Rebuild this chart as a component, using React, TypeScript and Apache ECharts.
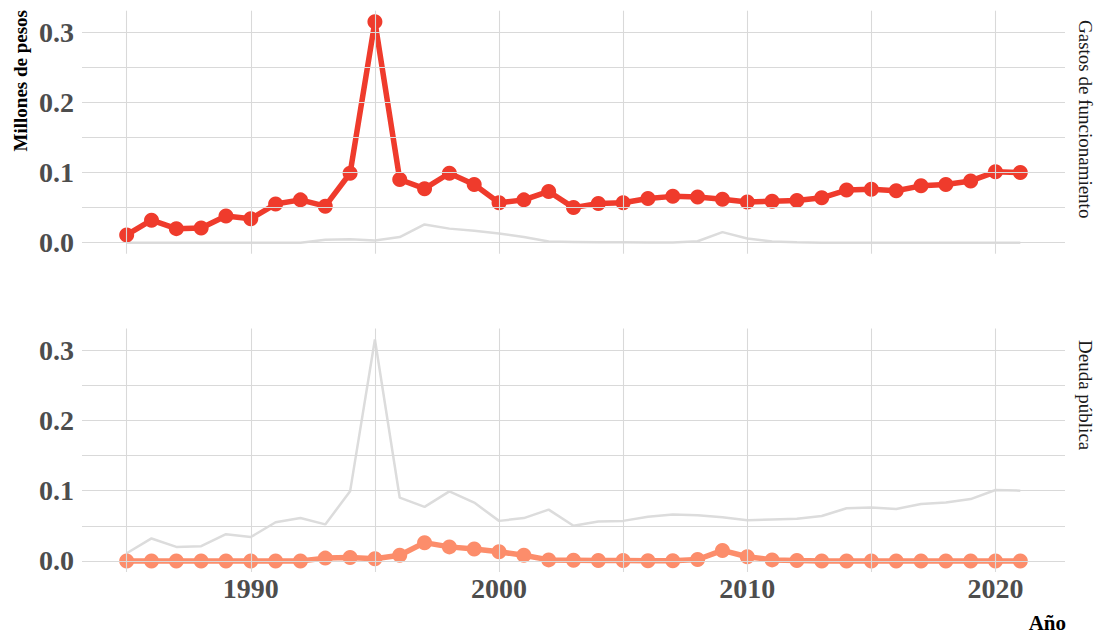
import React, { useEffect, useRef } from "react";
import * as echarts from "echarts";

const years = [1985, 1986, 1987, 1988, 1989, 1990, 1991, 1992, 1993, 1994, 1995, 1996, 1997, 1998, 1999, 2000, 2001, 2002, 2003, 2004, 2005, 2006, 2007, 2008, 2009, 2010, 2011, 2012, 2013, 2014, 2015, 2016, 2017, 2018, 2019, 2020, 2021];

const gastos = [0.011, 0.032, 0.020, 0.021, 0.038, 0.034, 0.055, 0.061, 0.052, 0.099, 0.315, 0.090, 0.077, 0.099, 0.083, 0.057, 0.061, 0.073, 0.050, 0.056, 0.057, 0.063, 0.066, 0.065, 0.062, 0.058, 0.059, 0.060, 0.064, 0.075, 0.076, 0.074, 0.081, 0.083, 0.088, 0.101, 0.100];

const deuda = [0, 0, 0, 0, 0, 0, 0, 0, 0.004, 0.005, 0.003, 0.008, 0.026, 0.020, 0.017, 0.013, 0.008, 0.0015, 0.001, 0.0005, 0.0005, 0.0003, 0.0003, 0.002, 0.015, 0.006, 0.0015, 0.0005, 0, 0, 0, 0, 0, 0, 0, 0, 0];

const panelNames = ["Gastos de funcionamiento", "Deuda pública"];
const xTickLabels = [1990, 2000, 2010, 2020];
const yTickLabels = [0, 0.1, 0.2, 0.3];
const xGridValues = [1985, 1990, 1995, 2000, 2005, 2010, 2015, 2020];
const yGridValues = [0, 0.05, 0.1, 0.15, 0.2, 0.25, 0.3];

const FONT = '"Liberation Serif", "Times New Roman", serif';
const GRID_COLOR = "#d9d9d9";
const GREY = "#dcdcdc";
const RED = "#EF3B2C";
const SALMON = "#FC8D6B";

export default function App() {
  const ref = useRef<HTMLDivElement>(null);
  useEffect(() => {
    if (!ref.current) return;
    const chart = echarts.init(ref.current, undefined, { renderer: "svg" });
    const pair = (arr: number[]) => years.map((y, i) => [y, arr[i]]);
    const gridMark = {
      silent: true,
      symbol: "none",
      label: { show: false },
      lineStyle: { color: GRID_COLOR, width: 1.1, type: "solid" },
      data: [
        ...xGridValues.map((v) => ({ xAxis: v })),
        ...yGridValues.map((v) => ({ yAxis: v })),
      ],
    };
    const xAxisBase = (gi: number, showLabels: boolean) => ({
      type: "value",
      gridIndex: gi,
      min: 1983.2,
      max: 2022.8,
      axisLine: { show: false },
      axisTick: { show: false },
      splitLine: { show: false },
      axisLabel: {
        show: showLabels,
        customValues: xTickLabels,
        margin: 2,
        color: "#4d4d4d",
        fontFamily: FONT,
        fontSize: 28,
        fontWeight: "bold",
        formatter: (v: number) => (Math.abs(v % 10) < 1e-6 ? String(v) : ""),
      },
    });
    const yAxisBase = (gi: number) => ({
      type: "value",
      gridIndex: gi,
      min: -0.01575,
      max: 0.33075,
      axisLine: { show: false },
      axisTick: { show: false },
      splitLine: { show: false },
      axisLabel: {
        customValues: yTickLabels,
        margin: 8,
        color: "#4d4d4d",
        fontFamily: FONT,
        fontSize: 28,
        fontWeight: "bold",
        formatter: (v: number) =>
          Math.abs(v * 10 - Math.round(v * 10)) < 1e-6 ? v.toFixed(1) : "",
      },
    });
    chart.setOption({
      animation: false,
      backgroundColor: "#ffffff",
      grid: [
        { left: 82, right: 32, top: 10.7, height: 243 },
        { left: 82, right: 32, top: 328.5, height: 243.5 },
      ],
      xAxis: [xAxisBase(0, false), xAxisBase(1, true)],
      yAxis: [yAxisBase(0), yAxisBase(1)],
      series: [
        {
          type: "line",
          xAxisIndex: 0,
          yAxisIndex: 0,
          data: pair(deuda),
          symbol: "none",
          lineStyle: { color: GREY, width: 2.5 },
          z: 1,
          markLine: gridMark,
        },
        {
          type: "line",
          xAxisIndex: 0,
          yAxisIndex: 0,
          data: pair(gastos),
          symbol: "circle",
          symbolSize: 15,
          lineStyle: { color: RED, width: 5.5 },
          itemStyle: { color: RED },
          z: 3,
        },
        {
          type: "line",
          xAxisIndex: 1,
          yAxisIndex: 1,
          data: pair(gastos),
          symbol: "none",
          lineStyle: { color: GREY, width: 2.5 },
          z: 1,
          markLine: gridMark,
        },
        {
          type: "line",
          xAxisIndex: 1,
          yAxisIndex: 1,
          data: pair(deuda),
          symbol: "circle",
          symbolSize: 15,
          lineStyle: { color: SALMON, width: 5.5 },
          itemStyle: { color: SALMON },
          z: 3,
        },
      ],
      graphic: [
        {
          type: "text",
          x: 20,
          y: 10,
          rotation: Math.PI / 2,
          style: {
            text: "Millones de pesos",
            font: `bold 19px ${FONT}`,
            fill: "#000000",
            align: "right",
            verticalAlign: "middle",
          },
        },
        {
          type: "text",
          x: 1085,
          y: 20,
          rotation: -Math.PI / 2,
          style: {
            text: panelNames[0],
            font: `19px ${FONT}`,
            fill: "#1a1a1a",
            align: "left",
            verticalAlign: "middle",
          },
        },
        {
          type: "text",
          x: 1085,
          y: 340,
          rotation: -Math.PI / 2,
          style: {
            text: panelNames[1],
            font: `19px ${FONT}`,
            fill: "#1a1a1a",
            align: "left",
            verticalAlign: "middle",
          },
        },
        {
          type: "text",
          x: 1066,
          y: 623,
          style: {
            text: "Año",
            font: `bold 21px ${FONT}`,
            fill: "#000000",
            align: "right",
            verticalAlign: "middle",
          },
        },
      ],
    });
    return () => chart.dispose();
  }, []);
  return (
    <div
      ref={ref}
      style={{ position: "fixed", left: 0, top: 0, width: 1097, height: 635 }}
    />
  );
}
